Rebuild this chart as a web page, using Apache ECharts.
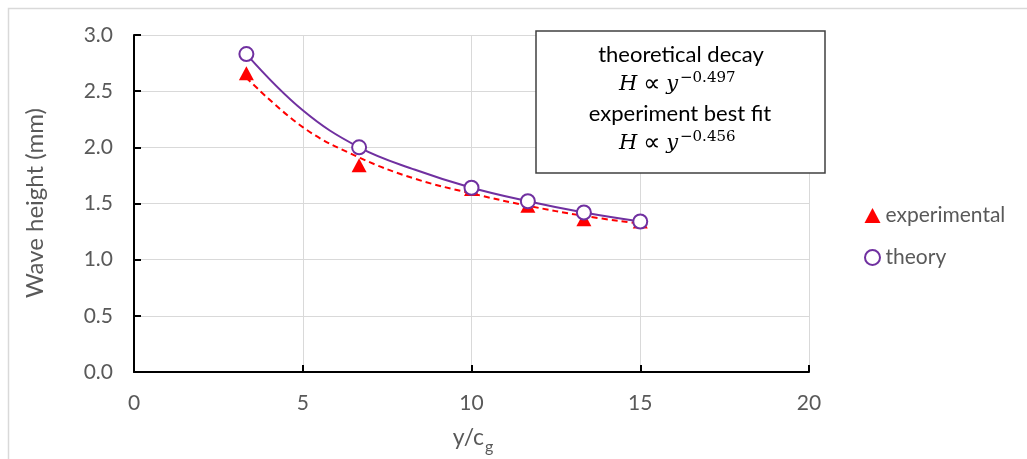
<!DOCTYPE html>
<html>
<head>
<meta charset="utf-8">
<script src="https://cdn.jsdelivr.net/npm/echarts@6/dist/echarts.min.js"></script>
<style>
html,body{margin:0;padding:0;background:#fff;}
#chart{width:1027px;height:459px;}
</style>
</head>
<body>
<div id="chart"></div>
<script>
// ---- data ----
const xValues = [3.33, 6.67, 10, 11.67, 13.33, 15];
const experimental = [2.66, 1.84, 1.63, 1.48, 1.36, 1.34];
const theory = [2.83, 2.00, 1.64, 1.52, 1.42, 1.34];
// trendline traces
const theoryCurveX = [3.33, 5, 6.67, 8.33, 10, 11.67, 13.33, 15];
const theoryCurveY = [2.83, 2.33, 2.00, 1.80, 1.64, 1.52, 1.42, 1.34];
const expFitX = [3.33, 5, 6.67, 8.33, 10, 11.67, 13.33, 15];
const expFitY = [2.62, 2.18, 1.91, 1.72, 1.59, 1.48, 1.39, 1.32];
const xTicks = [0, 5, 10, 15, 20];
const yTicks = [0, 0.5, 1.0, 1.5, 2.0, 2.5, 3.0];

const pair = (xs, ys) => xs.map((x, i) => [x, ys[i]]);
const FONT = 'Lato, "Open Sans", sans-serif';
const MATH = '"DejaVu Serif", "Liberation Serif", serif';
const mathRich = {
  i: { fontFamily: MATH, fontStyle: 'italic', fontSize: 21, fill: '#000' },
  p: { fontFamily: '"DejaVu Sans", sans-serif', fontSize: 24, fill: '#000' }
};

const chart = echarts.init(document.getElementById('chart'));
chart.setOption({
  animation: false,
  backgroundColor: '#fff',
  grid: { left: 134, right: 218, top: 35, bottom: 87 },
  xAxis: {
    type: 'value', min: xTicks[0], max: xTicks[xTicks.length - 1], interval: 5,
    axisLine: { show: true, lineStyle: { color: '#000', width: 2 } },
    axisTick: { show: true, inside: true, length: 7, lineStyle: { color: '#000', width: 2 } },
    axisLabel: { color: '#595959', fontSize: 21, fontFamily: FONT, margin: 21 },
    splitLine: { show: true, lineStyle: { color: '#d9d9d9', width: 1 } }
  },
  yAxis: {
    type: 'value', min: yTicks[0], max: yTicks[yTicks.length - 1], interval: 0.5,
    axisLine: { show: true, lineStyle: { color: '#000', width: 2 } },
    axisTick: { show: true, inside: true, length: 7, lineStyle: { color: '#000', width: 2 } },
    axisLabel: { color: '#595959', fontSize: 21, fontFamily: FONT, margin: 21,
      formatter: v => v.toFixed(1) },
    splitLine: { show: true, lineStyle: { color: '#d9d9d9', width: 1 } }
  },
  legend: {
    orient: 'vertical', left: 859, top: 200, itemGap: 21,
    itemWidth: 16, itemHeight: 15,
    data: ['experimental', 'theory'],
    textStyle: { color: '#595959', fontSize: 21, fontFamily: FONT }
  },
  series: [
    {
      name: 'expFit', type: 'line', data: pair(expFitX, expFitY), smooth: 0.4,
      showSymbol: false, symbol: 'none', z: 2,
      lineStyle: { color: '#ff0000', width: 2, type: [6, 4] }
    },
    {
      name: 'experimental', type: 'scatter', data: pair(xValues, experimental),
      symbol: 'triangle', symbolSize: [15, 14], z: 3,
      itemStyle: { color: '#ff0000', opacity: 1 }
    },
    {
      name: 'theoryFit', type: 'line', data: pair(theoryCurveX, theoryCurveY), smooth: 0.4,
      showSymbol: false, symbol: 'none', z: 4,
      lineStyle: { color: '#7030a0', width: 2 }
    },
    {
      name: 'theory', type: 'scatter', data: pair(xValues, theory),
      symbol: 'emptyCircle', symbolSize: 14, z: 5,
      itemStyle: { color: '#7030a0', borderColor: '#7030a0', borderWidth: 2, opacity: 1 }
    }
  ],
  graphic: [
    { type: 'rect', shape: { x: 8.5, y: 8.5, width: 1100, height: 600 }, silent: true,
      style: { fill: 'none', stroke: '#d9d9d9', lineWidth: 1.5 }, z: -10 },
    { type: 'text', x: 35, y: 203, rotation: Math.PI / 2,
      style: { text: 'Wave height (mm)', fill: '#595959', fontSize: 24, fontFamily: FONT,
        textAlign: 'center', textVerticalAlign: 'middle' } },
    { type: 'text', x: 484, y: 438,
      style: { text: 'y/c', fill: '#595959', fontSize: 23, fontFamily: FONT,
        textAlign: 'right', textVerticalAlign: 'middle' } },
    { type: 'text', x: 485, y: 447,
      style: { text: 'g', fill: '#595959', fontSize: 16, fontFamily: FONT,
        textAlign: 'left', textVerticalAlign: 'middle' } },
    { type: 'rect', shape: { x: 536, y: 31, width: 289, height: 142 },
      style: { fill: '#fff', stroke: '#404040', lineWidth: 1.5 }, z: 10 },
    { type: 'text', x: 681, y: 55, z: 11,
      style: { text: 'theoretical decay', fill: '#000', fontSize: 22, fontFamily: FONT,
        textAlign: 'center', textVerticalAlign: 'middle' } },
    { type: 'text', x: 678, y: 85, z: 11,
      style: { text: '{i|H} {p|∝} {i|y}', rich: mathRich, fontSize: 21,
        textAlign: 'right', textVerticalAlign: 'middle' } },
    { type: 'text', x: 680, y: 78, z: 11,
      style: { text: '−0.497', fill: '#000', fontSize: 15, fontFamily: MATH,
        textAlign: 'left', textVerticalAlign: 'middle' } },
    { type: 'text', x: 680, y: 114, z: 11,
      style: { text: 'experiment best fit', fill: '#000', fontSize: 22, fontFamily: FONT,
        textAlign: 'center', textVerticalAlign: 'middle' } },
    { type: 'text', x: 678, y: 144, z: 11,
      style: { text: '{i|H} {p|∝} {i|y}', rich: mathRich, fontSize: 21,
        textAlign: 'right', textVerticalAlign: 'middle' } },
    { type: 'text', x: 680, y: 137, z: 11,
      style: { text: '−0.456', fill: '#000', fontSize: 15, fontFamily: MATH,
        textAlign: 'left', textVerticalAlign: 'middle' } }
  ]
});
</script>
</body>
</html>
